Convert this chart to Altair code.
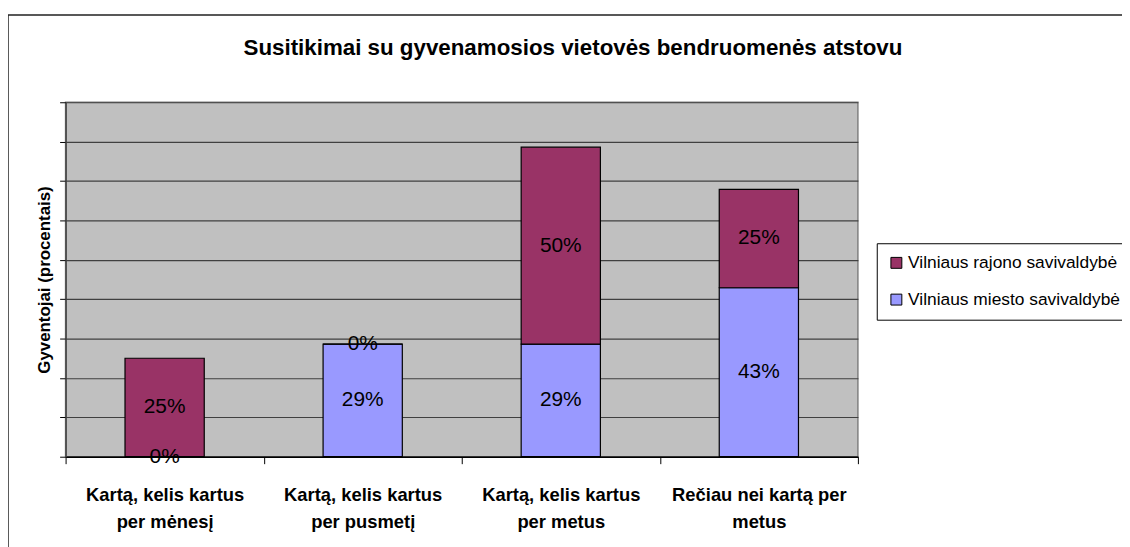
import altair as alt
import pandas as pd

FONT = "Liberation Sans"

categories = [
    "Kartą, kelis kartus\nper mėnesį",
    "Kartą, kelis kartus\nper pusmetį",
    "Kartą, kelis kartus\nper metus",
    "Rečiau nei kartą per\nmetus",
]
series = ["Vilniaus rajono savivaldybė", "Vilniaus miesto savivaldybė"]
rajono = [25, 0, 50, 25]
miesto = [0, 28.6, 28.6, 42.9]
colors = ["#993366", "#9999FF"]
y_ticks = [0, 10, 20, 30, 40, 50, 60, 70, 80, 90]
title_text = "Susitikimai su gyvenamosios vietovės bendruomenės atstovu"
y_title = "Gyventojai (procentais)"

rows = []
for i, c in enumerate(categories):
    rows.append({"cat": c, "series": series[1], "value": miesto[i], "ord": 0})
    rows.append({"cat": c, "series": series[0], "value": rajono[i], "ord": 1})
df = pd.DataFrame(rows)

x_axis = alt.Axis(
    labelExpr="split(datum.label, '\\n')",
    labelAngle=0,
    labelFont=FONT,
    labelFontSize=18.5,
    labelFontWeight="bold",
    labelColor="black",
    labelLineHeight=27,
    labelPadding=22,
    labelBaseline="top",
    tickBand="extent",
    tickSize=7,
    tickColor="black",
    domainColor="black",
    domainWidth=1.5,
    grid=False,
    title=None,
)
y_axis = alt.Axis(
    values=y_ticks,
    labels=False,
    tickSize=6,
    tickColor="black",
    grid=True,
    gridColor="#404040",
    gridWidth=1.2,
    domainColor="#404040",
    domainWidth=1.5,
    title=y_title,
    titleFont=FONT,
    titleFontSize=17,
    titleFontWeight="bold",
    titleColor="black",
    titlePadding=6,
)
x_enc = alt.X("cat:N", sort=categories,
              scale=alt.Scale(paddingInner=0, paddingOuter=0), axis=x_axis)
y_scale = alt.Scale(domain=[0, 90], nice=False, zero=True)

base = alt.Chart(df)

bars = base.mark_bar(
    stroke="black", strokeWidth=1.2, width=alt.RelativeBandSize(0.4)
).encode(
    x=x_enc,
    y=alt.Y("value:Q", stack="zero", scale=y_scale, axis=y_axis),
    color=alt.Color(
        "series:N",
        scale=alt.Scale(domain=series, range=colors),
        legend=alt.Legend(
            title=None,
            orient="none",
            legendX=817,
            legendY=142,
            direction="vertical",
            fillColor="white",
            strokeColor="black",
            padding=11,
            labelFont=FONT,
            labelFontSize=17.5,
            labelColor="black",
            labelLimit=400,
            labelOffset=3,
            symbolType="square",
            symbolSize=121,
            symbolStrokeColor="black",
            symbolStrokeWidth=1,
            symbolOpacity=1,
            rowPadding=18,
        ),
    ),
    order=alt.Order("ord:Q"),
)

labels = base.transform_stack(
    stack="value", groupby=["cat"], sort=[alt.SortField("ord")], as_=["y0", "y1"]
).transform_calculate(
    mid="(datum.y0 + datum.y1) / 2",
    lbl="format(datum.value, '.0f') + '%'",
).mark_text(font=FONT, fontSize=21, color="black", baseline="middle").encode(
    x=x_enc,
    y=alt.Y("mid:Q", scale=y_scale, axis=y_axis),
    text="lbl:N",
)

deco = alt.Chart(pd.DataFrame({"t": [title_text]}))

frame = deco.mark_rect(
    fillOpacity=0, stroke="#222222", strokeWidth=1.5
).encode(
    x=alt.value(-58), x2=alt.value(1090), y=alt.value(-88), y2=alt.value(470)
)

title = deco.mark_text(
    font=FONT, fontSize=22.5, fontWeight="bold", color="black",
    align="center", baseline="alphabetic",
).encode(x=alt.value(511), y=alt.value(-48), text="t:N")

chart = alt.layer(frame, bars, labels, title).properties(
    width=798,
    height=357,
    autosize=alt.AutoSizeParams(type="none"),
    padding={"left": 58, "top": 93, "right": 266, "bottom": 89},
    background="white",
).configure_view(
    fill="#C0C0C0", stroke="#808080", strokeWidth=1.5
)

chart.save("out.html", embed_options={"renderer": "svg", "actions": False})
